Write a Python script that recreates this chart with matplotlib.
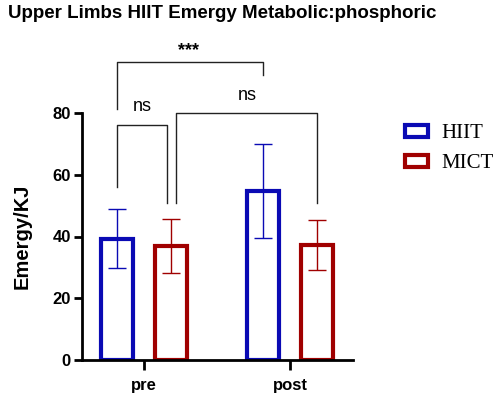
import numpy as np
import matplotlib.pyplot as plt
from matplotlib.patches import Patch

# data
groups = ["pre", "post"]
hiit_mean = [39.3, 54.8]
hiit_sd = [9.6, 15.2]
mict_mean = [37.0, 37.3]
mict_sd = [8.8, 8.2]

blue = "#0a0ab4"
red = "#a00000"

fig = plt.figure(figsize=(4.98, 3.96), dpi=100)
ax = fig.add_axes([82 / 498, 1 - 360 / 396, (353 - 82) / 498, (360 - 113) / 396])

x = np.arange(len(groups))
off = 0.185
w = 0.215

ax.bar(x - off, hiit_mean, w, facecolor="white", edgecolor=blue, linewidth=3, zorder=2)
ax.bar(x + off, mict_mean, w, facecolor="white", edgecolor=red, linewidth=3, zorder=2)
ax.errorbar(x - off, hiit_mean, yerr=hiit_sd, fmt="none", ecolor=blue,
            elinewidth=1, capsize=6.5, capthick=1, zorder=3)
ax.errorbar(x + off, mict_mean, yerr=mict_sd, fmt="none", ecolor=red,
            elinewidth=1, capsize=6.5, capthick=1, zorder=3)

ax.set_xlim(-0.425, 1.432)
ax.set_ylim(0, 80)
ax.set_yticks([0, 20, 40, 60, 80])
ax.set_xticks(x)
ax.set_xticklabels(groups)
for s in ["top", "right"]:
    ax.spines[s].set_visible(False)
for s in ["left", "bottom"]:
    ax.spines[s].set_linewidth(2)
ax.tick_params(axis="y", length=6, width=2, labelsize=12, pad=2)
ax.tick_params(axis="x", length=7, width=2, labelsize=12, pad=6)
for lab in ax.get_xticklabels() + ax.get_yticklabels():
    lab.set_fontweight("bold")
    lab.set_family("Liberation Sans")


def bracket(x1, x2, top, b1, b2, text, tx, ty, **kw):
    ax.plot([x1, x1, x2, x2], [b1, top, top, b2], color="#222222", lw=1,
            clip_on=False, zorder=1)
    ax.text(tx, ty, text, ha="center", va="center", family="Liberation Sans",
            clip_on=False, **kw)


bracket(-0.185, 0.815, 96.6, 81.3, 92.3, "***", 0.308, 100.2,
        fontsize=13, fontweight="bold")
bracket(-0.185, 0.16, 76.1, 56.1, 50.9, "ns", -0.014, 82.0, fontsize=13)
bracket(0.219, 1.185, 80.1, 50.9, 50.9, "ns", 0.705, 85.8, fontsize=13)

fig.text(8 / 498, 1 - 14 / 396, "Upper Limbs HIIT Emergy Metabolic:phosphoric",
         ha="left", va="center", fontsize=13.5, fontweight="bold",
         family="Liberation Sans")
fig.text(22 / 498, 1 - 236 / 396, "Emergy/KJ", rotation=90, ha="center",
         va="center", fontsize=14.5, fontweight="bold", family="Liberation Sans")

handles = [Patch(facecolor="white", edgecolor=blue, linewidth=3, label="HIIT"),
           Patch(facecolor="white", edgecolor=red, linewidth=3, label="MICT")]
fig.legend(handles=handles, loc="upper left", bbox_to_anchor=(405 / 498, 1 - 124 / 396),
           frameon=False, borderpad=0, borderaxespad=0, handlelength=1.1,
           handleheight=0.5, handletextpad=0.65, labelspacing=0.55,
           prop={"family": "Liberation Serif", "size": 15})

fig.savefig("out.png", dpi=100)
